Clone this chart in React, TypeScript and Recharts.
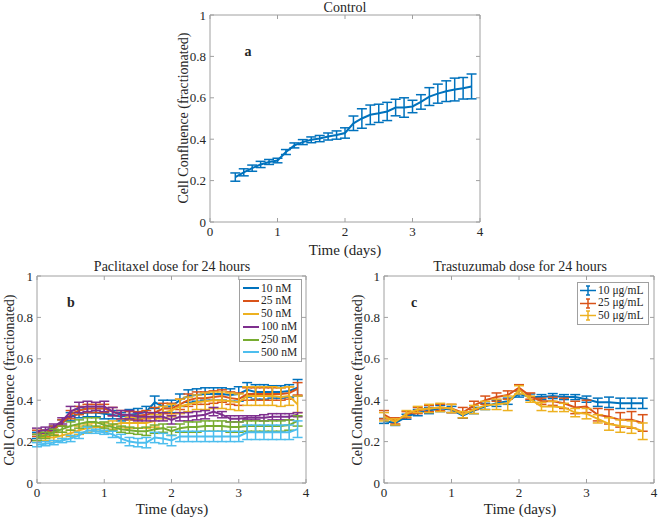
import { LineChart, Line, XAxis, YAxis, ErrorBar, ReferenceLine } from 'recharts'

const AXIS = '#a0a0a0'
const TEXT = '#262626'
const FONT = '"Liberation Serif", "Times New Roman", serif'

const X_TICKS = [0, 1, 2, 3, 4]
const Y_TICKS = [0, 0.2, 0.4, 0.6, 0.8, 1]

// panel a
const controlTime = [0.375, 0.5, 0.625, 0.75, 0.875, 1, 1.125, 1.25, 1.375, 1.5, 1.625, 1.75, 1.875, 2, 2.125, 2.25, 2.375, 2.5, 2.625, 2.75, 2.875, 3, 3.125, 3.25, 3.375, 3.5, 3.625, 3.75, 3.875]
const controlMean = [0.217, 0.24, 0.26, 0.278, 0.29, 0.297, 0.338, 0.37, 0.386, 0.397, 0.403, 0.413, 0.42, 0.43, 0.477, 0.5, 0.518, 0.525, 0.534, 0.553, 0.553, 0.558, 0.58, 0.606, 0.62, 0.632, 0.64, 0.646, 0.655]
const controlErr = [0.02, 0.017, 0.015, 0.015, 0.012, 0.011, 0.012, 0.012, 0.012, 0.014, 0.015, 0.017, 0.02, 0.025, 0.035, 0.047, 0.047, 0.044, 0.044, 0.04, 0.047, 0.03, 0.035, 0.043, 0.046, 0.05, 0.055, 0.052, 0.06]

// panel b
const paclitaxelTime = [0, 0.125, 0.25, 0.375, 0.5, 0.625, 0.75, 0.875, 1, 1.125, 1.25, 1.375, 1.5, 1.625, 1.75, 1.875, 2, 2.125, 2.25, 2.375, 2.5, 2.625, 2.75, 2.875, 3, 3.125, 3.25, 3.375, 3.5, 3.625, 3.75, 3.875]
const pac10 = [0.23, 0.24, 0.26, 0.29, 0.32, 0.335, 0.34, 0.34, 0.335, 0.33, 0.32, 0.33, 0.335, 0.345, 0.39, 0.37, 0.37, 0.4, 0.42, 0.425, 0.43, 0.43, 0.43, 0.425, 0.43, 0.45, 0.44, 0.44, 0.44, 0.44, 0.445, 0.46]
const pac10Err = [0.015, 0.015, 0.015, 0.015, 0.02, 0.02, 0.02, 0.02, 0.025, 0.02, 0.02, 0.025, 0.025, 0.025, 0.03, 0.03, 0.03, 0.03, 0.03, 0.03, 0.03, 0.03, 0.03, 0.03, 0.035, 0.035, 0.035, 0.035, 0.03, 0.03, 0.03, 0.04]
const pac25 = [0.24, 0.24, 0.26, 0.29, 0.33, 0.35, 0.36, 0.36, 0.36, 0.345, 0.33, 0.325, 0.325, 0.33, 0.34, 0.36, 0.36, 0.38, 0.4, 0.41, 0.41, 0.415, 0.42, 0.41, 0.405, 0.43, 0.43, 0.43, 0.43, 0.43, 0.435, 0.455]
const pac25Err = [0.015, 0.015, 0.015, 0.015, 0.02, 0.02, 0.02, 0.02, 0.02, 0.02, 0.02, 0.02, 0.02, 0.02, 0.025, 0.025, 0.025, 0.025, 0.03, 0.03, 0.03, 0.03, 0.03, 0.03, 0.03, 0.03, 0.03, 0.03, 0.03, 0.03, 0.03, 0.03]
const pac50 = [0.22, 0.22, 0.22, 0.23, 0.24, 0.255, 0.265, 0.27, 0.27, 0.28, 0.29, 0.29, 0.29, 0.29, 0.3, 0.34, 0.35, 0.37, 0.38, 0.39, 0.395, 0.4, 0.4, 0.395, 0.39, 0.42, 0.42, 0.42, 0.42, 0.415, 0.42, 0.38]
const pac50Err = [0.015, 0.015, 0.015, 0.015, 0.015, 0.02, 0.02, 0.02, 0.02, 0.02, 0.02, 0.025, 0.025, 0.025, 0.03, 0.03, 0.03, 0.035, 0.035, 0.035, 0.04, 0.04, 0.04, 0.04, 0.04, 0.045, 0.045, 0.045, 0.045, 0.045, 0.045, 0.04]
const pac100 = [0.25, 0.255, 0.27, 0.3, 0.345, 0.365, 0.37, 0.37, 0.37, 0.345, 0.33, 0.33, 0.32, 0.32, 0.32, 0.32, 0.305, 0.32, 0.32, 0.325, 0.33, 0.345, 0.33, 0.31, 0.31, 0.315, 0.315, 0.315, 0.32, 0.32, 0.32, 0.33]
const pac100Err = [0.015, 0.015, 0.015, 0.015, 0.025, 0.025, 0.025, 0.02, 0.025, 0.02, 0.02, 0.02, 0.02, 0.02, 0.02, 0.02, 0.02, 0.02, 0.02, 0.02, 0.02, 0.02, 0.015, 0.015, 0.015, 0.01, 0.01, 0.015, 0.015, 0.015, 0.015, 0.01]
const pac250 = [0.22, 0.23, 0.245, 0.26, 0.275, 0.285, 0.295, 0.295, 0.28, 0.27, 0.26, 0.255, 0.25, 0.25, 0.26, 0.265, 0.25, 0.265, 0.27, 0.27, 0.275, 0.275, 0.275, 0.27, 0.27, 0.275, 0.275, 0.275, 0.275, 0.275, 0.28, 0.3]
const pac250Err = [0.015, 0.015, 0.015, 0.015, 0.02, 0.02, 0.02, 0.02, 0.015, 0.015, 0.015, 0.015, 0.015, 0.02, 0.02, 0.02, 0.02, 0.02, 0.025, 0.025, 0.025, 0.025, 0.025, 0.025, 0.025, 0.025, 0.025, 0.025, 0.025, 0.025, 0.025, 0.025]
const pac500 = [0.185, 0.19, 0.195, 0.205, 0.215, 0.23, 0.255, 0.25, 0.245, 0.235, 0.215, 0.2, 0.195, 0.195, 0.22, 0.215, 0.205, 0.225, 0.225, 0.225, 0.225, 0.225, 0.225, 0.225, 0.225, 0.245, 0.245, 0.245, 0.245, 0.245, 0.245, 0.26]
const pac500Err = [0.01, 0.01, 0.01, 0.01, 0.015, 0.015, 0.015, 0.01, 0.01, 0.015, 0.02, 0.02, 0.02, 0.025, 0.025, 0.025, 0.025, 0.025, 0.025, 0.025, 0.025, 0.025, 0.025, 0.025, 0.025, 0.035, 0.035, 0.035, 0.035, 0.035, 0.035, 0.04]
const paclitaxelNames = ['10 nM', '25 nM', '50 nM', '100 nM', '250 nM', '500 nM']

// panel c
const trastuzumabTime = [0, 0.167, 0.333, 0.5, 0.667, 0.833, 1, 1.167, 1.333, 1.5, 1.667, 1.833, 2, 2.167, 2.333, 2.5, 2.667, 2.833, 3, 3.167, 3.333, 3.5, 3.667, 3.833]
const tra10 = [0.3, 0.29, 0.32, 0.34, 0.35, 0.36, 0.355, 0.325, 0.35, 0.37, 0.385, 0.395, 0.43, 0.415, 0.415, 0.42, 0.415, 0.415, 0.405, 0.39, 0.39, 0.385, 0.385, 0.385]
const tra10Err = [0.012, 0.012, 0.012, 0.015, 0.015, 0.015, 0.015, 0.012, 0.015, 0.015, 0.015, 0.015, 0.015, 0.015, 0.012, 0.012, 0.012, 0.012, 0.015, 0.02, 0.025, 0.025, 0.025, 0.025]
const tra25 = [0.33, 0.3, 0.33, 0.35, 0.36, 0.365, 0.36, 0.34, 0.375, 0.4, 0.415, 0.425, 0.46, 0.42, 0.395, 0.395, 0.385, 0.365, 0.37, 0.33, 0.32, 0.305, 0.305, 0.29]
const tra25Err = [0.02, 0.015, 0.015, 0.015, 0.015, 0.015, 0.02, 0.025, 0.02, 0.02, 0.02, 0.02, 0.015, 0.015, 0.015, 0.02, 0.025, 0.03, 0.03, 0.03, 0.035, 0.035, 0.04, 0.04]
const tra50 = [0.32, 0.295, 0.335, 0.355, 0.36, 0.365, 0.36, 0.33, 0.355, 0.375, 0.38, 0.385, 0.45, 0.405, 0.37, 0.37, 0.365, 0.34, 0.335, 0.31, 0.285, 0.275, 0.27, 0.25]
const tra50Err = [0.02, 0.015, 0.015, 0.015, 0.02, 0.02, 0.02, 0.015, 0.02, 0.02, 0.025, 0.035, 0.02, 0.015, 0.02, 0.025, 0.02, 0.02, 0.025, 0.02, 0.03, 0.03, 0.03, 0.04]
const trastuzumabNames = ['10 μg/mL', '25 μg/mL', '50 μg/mL']

// matlab default order
const COLORS = ['#0072BD', '#D95319', '#EDB120', '#7E2F8E', '#77AC30', '#4DBEEE']

function buildRows(time: number[], means: number[][], errs: number[][]) {
  return time.map((t, i) => {
    const row: Record<string, number> = { t }
    means.forEach((m, j) => {
      row['m' + j] = m[i]
      row['e' + j] = errs[j][i]
    })
    return row
  })
}

const controlRows = buildRows(controlTime, [controlMean], [controlErr])
const paclitaxelRows = buildRows(
  paclitaxelTime,
  [pac10, pac25, pac50, pac100, pac250, pac500],
  [pac10Err, pac25Err, pac50Err, pac100Err, pac250Err, pac500Err],
)
const trastuzumabRows = buildRows(trastuzumabTime, [tra10, tra25, tra50], [tra10Err, tra25Err, tra50Err])

type PanelProps = {
  left: number
  top: number
  w: number
  h: number
  rows: Record<string, number>[]
  count: number
}

function Panel({ left, top, w, h, rows, count }: PanelProps) {
  // ticks point inwards on all four sides, like matlab's box
  const yTick = (p: any) => {
    const ax = p.x + 4
    return (
      <g>
        <line x1={ax} x2={ax + 4} y1={p.y} y2={p.y} stroke={AXIS} />
        <line x1={ax + w} x2={ax + w - 4} y1={p.y} y2={p.y} stroke={AXIS} />
        <text x={p.x} y={p.y} dy="0.35em" textAnchor="end" fontSize={13} fill={TEXT} fontFamily={FONT}>
          {String(p.payload.value)}
        </text>
      </g>
    )
  }
  const xTick = (p: any) => {
    const ay = p.y - 4
    return (
      <g>
        <line x1={p.x} x2={p.x} y1={ay} y2={ay - 4} stroke={AXIS} />
        <line x1={p.x} x2={p.x} y1={ay - h} y2={ay - h + 4} stroke={AXIS} />
        <text x={p.x} y={p.y} dy="0.75em" textAnchor="middle" fontSize={13} fill={TEXT} fontFamily={FONT}>
          {String(p.payload.value)}
        </text>
      </g>
    )
  }
  const lines = []
  for (let j = 0; j < count; j++) {
    lines.push(
      <Line key={j} type="linear" dataKey={'m' + j} stroke={COLORS[j]} strokeWidth={2} dot={false} isAnimationActive={false}>
        <ErrorBar dataKey={'e' + j} direction="y" width={5} stroke={COLORS[j]} strokeWidth={1.5} isAnimationActive={false} />
      </Line>,
    )
  }
  return (
    <div style={{ position: 'absolute', left: left - 40, top: top - 10 }}>
      <LineChart width={w + 50} height={h + 35} data={rows} margin={{ top: 10, right: 10, bottom: 0, left: 10 }}>
        <XAxis dataKey="t" type="number" domain={[0, 4]} ticks={X_TICKS} interval={0} stroke={AXIS} tickSize={0} tickMargin={4} height={25} tick={xTick} />
        <YAxis type="number" domain={[0, 1]} ticks={Y_TICKS} interval={0} stroke={AXIS} tickSize={0} tickMargin={4} width={30} tick={yTick} />
        <ReferenceLine y={1} stroke={AXIS} />
        <ReferenceLine x={4} stroke={AXIS} />
        {lines}
      </LineChart>
    </div>
  )
}

function Txt({ x, y, size = 14, bold, rotate, children }: any) {
  return (
    <div
      style={{
        position: 'absolute',
        left: x,
        top: y,
        transform: 'translate(-50%, -50%)' + (rotate ? ' rotate(-90deg)' : ''),
        whiteSpace: 'nowrap',
        fontSize: size,
        fontWeight: bold ? 'bold' : 'normal',
        lineHeight: 1,
      }}
    >
      {children}
    </div>
  )
}

const legendRow = { display: 'flex', alignItems: 'center', fontSize: 11.5, lineHeight: 1, height: 12.8 }

function PaclitaxelLegend() {
  return (
    <div style={{ position: 'absolute', left: 239, top: 279, width: 63, height: 83, border: '1px solid #a0a0a0', background: '#fff', boxSizing: 'border-box', padding: '2px 0 0 3px' }}>
      {paclitaxelNames.map((n, i) => (
        <div key={n} style={legendRow}>
          <svg width={16} height={6} style={{ marginRight: 2, flex: 'none' }}>
            <line x1={0} x2={16} y1={3} y2={3} stroke={COLORS[i]} strokeWidth={2} />
          </svg>
          <span>{n}</span>
        </div>
      ))}
    </div>
  )
}

function TrastuzumabLegend() {
  return (
    <div style={{ position: 'absolute', left: 577, top: 282, width: 72, height: 43, border: '1px solid #a0a0a0', background: '#fff', boxSizing: 'border-box', padding: '1px 0 0 2px' }}>
      {trastuzumabNames.map((n, i) => (
        <div key={n} style={legendRow}>
          <svg width={16} height={11} style={{ marginRight: 2, flex: 'none' }}>
            <line x1={0} x2={16} y1={5.5} y2={5.5} stroke={COLORS[i]} strokeWidth={1.5} />
            <line x1={8} x2={8} y1={1} y2={10} stroke={COLORS[i]} strokeWidth={1.5} />
            <line x1={6} x2={10} y1={1} y2={1} stroke={COLORS[i]} strokeWidth={1.5} />
            <line x1={6} x2={10} y1={10} y2={10} stroke={COLORS[i]} strokeWidth={1.5} />
          </svg>
          <span>{n}</span>
        </div>
      ))}
    </div>
  )
}

export default function App() {
  return (
    <div style={{ position: 'absolute', left: 0, top: 0, width: 658, height: 518, overflow: 'hidden', background: '#fff', fontFamily: FONT, color: TEXT }}>
      <Panel left={210} top={15} w={270} h={207} rows={controlRows} count={1} />
      <Panel left={37} top={276} w={269} h={207} rows={paclitaxelRows} count={6} />
      <Panel left={384} top={276} w={270} h={207} rows={trastuzumabRows} count={3} />

      <Txt x={345} y={8}>Control</Txt>
      <Txt x={345} y={250} size={15}>Time (days)</Txt>
      <Txt x={184} y={118} rotate>Cell Confluence (fractionated)</Txt>
      <Txt x={248} y={52} bold>a</Txt>

      <Txt x={172} y={267}>Paclitaxel dose for 24 hours</Txt>
      <Txt x={172} y={509} size={15}>Time (days)</Txt>
      <Txt x={10} y={380} rotate>Cell Confluence (fractionated)</Txt>
      <Txt x={71} y={303} bold>b</Txt>
      <PaclitaxelLegend />

      <Txt x={520} y={267}>Trastuzumab dose for 24 hours</Txt>
      <Txt x={520} y={509} size={15}>Time (days)</Txt>
      <Txt x={358} y={380} rotate>Cell Confluence (fractionated)</Txt>
      <Txt x={414} y={303} bold>c</Txt>
      <TrastuzumabLegend />
    </div>
  )
}
